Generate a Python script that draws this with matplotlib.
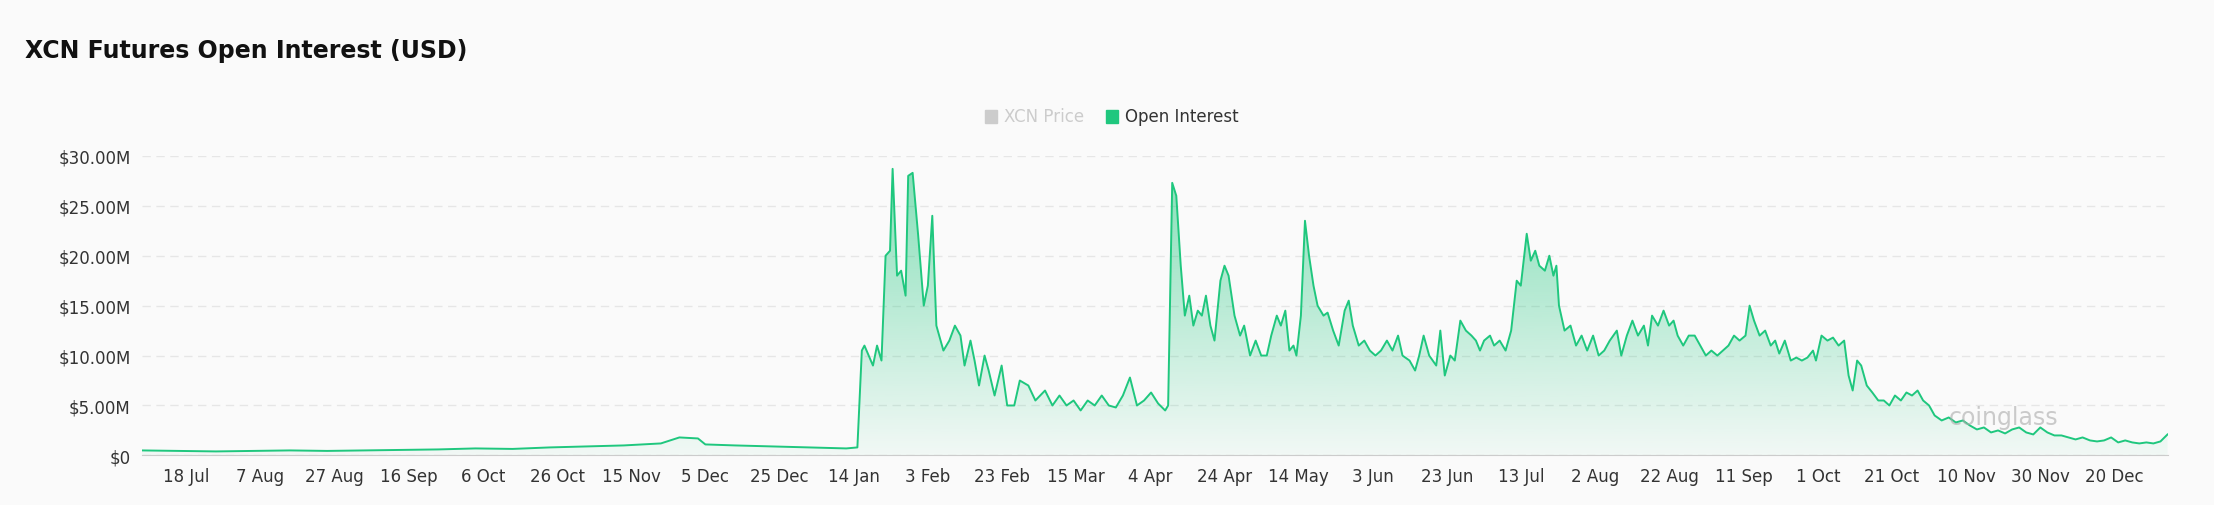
import numpy as np
import pandas as pd
import matplotlib.pyplot as plt
from matplotlib.patches import Rectangle

# days since 2024-07-06, open interest in $M
start = pd.Timestamp("2024-07-06")
days = [0, 10, 20, 30, 40, 50, 60, 70, 80, 90, 100, 110, 120, 130, 140, 145, 150, 152, 160, 170, 180, 190, 193,
        194.2, 194.9, 197.2, 198.3, 199.5, 200.6, 201.8, 202.5, 203.7, 204.8, 206.0, 206.7, 207.9, 209.4, 210.9,
        212.0, 213.2, 214.3, 216.2, 217.8, 219.3, 220.8, 221.9, 223.5, 224.6, 225.8, 227.3, 228.4, 230.0, 231.9,
        233.4, 235.3, 236.8, 239.1, 241.0, 243.6, 245.6, 247.5, 249.4, 251.3, 253.2, 255.1, 257.0, 258.9, 260.8,
        262.7, 264.6, 266.5, 268.4, 270.3, 272.2, 274.1, 276.0, 276.8, 277.9, 279.0, 280.2, 281.3, 282.5, 283.6,
        284.8, 285.9, 287.0, 288.2, 289.3, 290.9, 292.0, 293.1, 294.7, 296.2, 297.3, 298.9, 300.4, 301.9, 303.4,
        304.6, 306.1, 307.2, 308.4, 309.5, 310.6, 311.4, 312.6, 313.7, 314.8, 316.0, 317.1, 318.7, 319.8, 321.3,
        322.8, 324.4, 325.5, 326.6, 328.2, 329.7, 331.2, 332.7, 334.2, 335.8, 337.3, 338.8, 340.0, 341.9, 343.4,
        344.5, 345.7, 347.2, 349.1, 350.2, 351.4, 352.9, 354.1, 355.6, 357.1, 358.6, 359.8, 360.9, 362.0, 363.6,
        364.7, 366.2, 367.8, 369.3, 370.8, 371.9, 373.5, 374.6, 375.8, 376.9, 378.4, 379.6, 380.7, 381.5, 382.2,
        383.7, 385.3, 386.8, 388.3, 389.8, 391.4, 392.9, 394.4, 395.9, 397.8, 399.0, 400.5, 402.0, 403.5, 405.1,
        406.2, 407.3, 408.9, 410.4, 411.9, 413.1, 414.2, 415.7, 417.2, 418.8, 420.3, 421.8, 423.3, 424.9, 426.4,
        427.9, 429.4, 430.9, 432.5, 433.6, 434.8, 436.3, 437.8, 439.3, 440.5, 441.6, 443.1, 444.7, 446.2, 447.7,
        449.2, 450.7, 451.5, 453.0, 454.6, 456.1, 457.6, 459.1, 460.3, 461.4, 462.6, 463.7, 465.2, 466.7, 468.3,
        469.8, 471.3, 472.8, 474.4, 475.9, 477.4, 478.9, 480.4, 482.0, 483.5, 485.4, 487.3, 489.2, 491.1, 493.0,
        494.9, 496.8, 498.7, 500.6, 502.5, 504.4, 506.3, 508.2, 510.1, 512.0, 513.9, 515.8, 517.7, 519.6, 521.5,
        523.4, 525.4, 527.3, 529.2, 531.1, 533.0, 534.9, 536.8, 538.7, 540.6, 542.5, 544.4, 546.3]
oi = [0.5, 0.45, 0.4, 0.45, 0.5, 0.45, 0.5, 0.55, 0.6, 0.7, 0.65, 0.8, 0.9, 1.0, 1.2, 1.8, 1.7, 1.1, 1.0, 0.9, 0.8, 0.7, 0.8,
      10.5, 11, 9, 11, 9.5, 20, 20.5, 28.7, 18, 18.5, 16, 28, 28.3, 22, 15,
      17, 24, 13, 10.5, 11.5, 13, 12, 9, 11.5, 9.5, 7, 10, 8.5, 6, 9,
      5, 5, 7.5, 7, 5.5, 6.5, 5, 6, 5, 5.5, 4.5, 5.5, 5, 6, 5,
      4.8, 6, 7.8, 5, 5.5, 6.3, 5.2, 4.5, 5, 27.3, 26, 19, 14, 16, 13,
      14.5, 14, 16, 13, 11.5, 17.5, 19, 18, 14, 12, 13, 10, 11.5, 10, 10,
      12, 14, 13, 14.5, 10.5, 11, 10, 14, 23.5, 20, 17, 15, 14, 14.3, 12.5,
      11, 14.5, 15.5, 13, 11, 11.5, 10.5, 10, 10.5, 11.5, 10.5, 12, 10, 9.5, 8.5,
      10, 12, 10, 9, 12.5, 8, 10, 9.5, 13.5, 12.5, 12, 11.5, 10.5, 11.5, 12,
      11, 11.5, 10.5, 12.5, 17.5, 17, 22.2, 19.5, 20.5, 19, 18.5, 20, 18, 19, 15,
      12.5, 13, 11, 12, 10.5, 12, 10, 10.5, 11.5, 12.5, 10, 12, 13.5, 12, 13,
      11, 14, 13, 14.5, 13, 13.5, 12, 11, 12, 12, 11, 10, 10.5, 10, 10.5,
      11, 12, 11.5, 12, 15, 13.5, 12, 12.5, 11, 11.5, 10.2, 11.5, 9.5, 9.8, 9.5,
      9.8, 10.5, 9.5, 12, 11.5, 11.8, 11, 11.5, 8, 6.5, 9.5, 9, 7, 6.3, 5.5,
      5.5, 5, 6, 5.5, 6.3, 6, 6.5, 5.5, 5, 4, 3.5, 3.8, 3.3, 3.5, 3,
      2.6, 2.8, 2.3, 2.5, 2.2, 2.6, 2.8, 2.3, 2.1, 2.8, 2.3, 2, 2, 1.8, 1.6,
      1.8, 1.5, 1.4, 1.5, 1.8, 1.3, 1.5, 1.3, 1.2, 1.3, 1.2, 1.4, 2.1]

tick_labels = ["18 Jul", "7 Aug", "27 Aug", "16 Sep", "6 Oct", "26 Oct", "15 Nov", "5 Dec", "25 Dec",
               "14 Jan", "3 Feb", "23 Feb", "15 Mar", "4 Apr", "24 Apr", "14 May", "3 Jun", "23 Jun",
               "13 Jul", "2 Aug", "22 Aug", "11 Sep", "1 Oct", "21 Oct", "10 Nov", "30 Nov", "20 Dec"]
tick_dates = pd.date_range("2024-07-18", periods=len(tick_labels), freq="20D")

dates = start + pd.to_timedelta(days, unit="D")
green = "#1fc77e"
bg = "#fafafa"

fig = plt.figure(figsize=(22.14, 5.06), dpi=100, facecolor=bg)
ax = fig.add_axes([0.064, 0.098, 0.915, 0.592], facecolor=bg)

x = pd.to_datetime(dates)
ax.plot(x, oi, color=green, lw=1.4, zorder=3)
poly = ax.fill_between(x, oi, 0, color="none")
ax.set_xlim(x[0], x[-1])
ax.set_ylim(0, 30)
# vertical gradient fill clipped to area under the line
xl = ax.get_xlim()
grad = np.linspace(0.04, 0.55, 256).reshape(-1, 1)
rgba = np.zeros((256, 1, 4))
rgba[..., 0], rgba[..., 1], rgba[..., 2] = 0x1f / 255, 0xc7 / 255, 0x7e / 255
rgba[..., 3] = grad
im = ax.imshow(rgba, extent=[xl[0], xl[1], 0, 30], origin="lower", aspect="auto", zorder=2)
im.set_clip_path(poly.get_paths()[0], transform=ax.transData)
ax.set_xlim(xl)
ax.set_ylim(0, 30)

ax.set_yticks(range(0, 31, 5))
ax.set_yticklabels(["$0"] + [f"${v}.00M" for v in range(5, 31, 5)])
ax.set_xticks(tick_dates)
ax.set_xticklabels(tick_labels)
ax.tick_params(axis="both", labelsize=12, colors="#333333", length=0, pad=8)
ax.grid(axis="y", color="#e6e6e6", ls=(0, (6, 4)), lw=1)
for s in ["top", "right", "left"]:
    ax.spines[s].set_visible(False)
ax.spines["bottom"].set_color("#cccccc")

fig.text(0.0115, 0.9, "XCN Futures Open Interest (USD)", fontsize=17, fontweight="bold", color="#111111", va="center")
# legend
fig.patches.append(Rectangle((0.445, 0.755), 0.0055, 0.026, transform=fig.transFigure, color="#cccccc"))
fig.text(0.4535, 0.768, "XCN Price", fontsize=12, color="#cccccc", va="center")
fig.patches.append(Rectangle((0.4995, 0.755), 0.0055, 0.026, transform=fig.transFigure, color=green))
fig.text(0.508, 0.768, "Open Interest", fontsize=12, color="#333333", va="center")
fig.text(0.88, 0.16, "coinglass", fontsize=17, color="#aaaaaa", alpha=0.6)

fig.savefig("out.png", dpi=100, facecolor=bg)
